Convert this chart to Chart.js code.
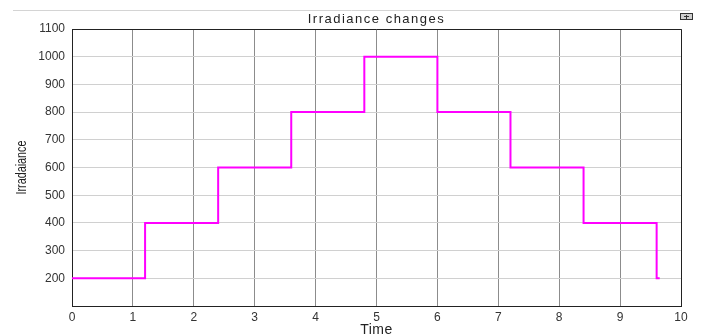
<!DOCTYPE html>
<html>
<head>
<meta charset="utf-8">
<script src="https://cdn.jsdelivr.net/npm/chart.js@4.4.0/dist/chart.umd.min.js"></script>
<style>
    html, body { margin: 0; padding: 0; background: #fff; }
    #wrap { width: 701px; height: 335px; position: relative; }
</style>
</head>
<body>
<div id="wrap"><canvas id="myChart" width="701" height="335"></canvas></div>
<script>
// step times (s) and the irradiance level that starts at each time
let stepTimes = [0, 1.2, 2.4, 3.6, 4.8, 6.0, 7.2, 8.4, 9.6, 9.65];
let irradiance = [200, 400, 600, 800, 1000, 800, 600, 400, 200, 200];
let xTicks = [0, 1, 2, 3, 4, 5, 6, 7, 8, 9, 10];
let yTicks = [200, 300, 400, 500, 600, 700, 800, 900, 1000, 1100];

const tickFont = { family: 'Liberation Sans, Arial, sans-serif', size: 12 };

// frame, titles and small button drawn around the plot area
const framePlugin = {
    id: 'frame',
    afterDraw(chart) {
        const ctx = chart.ctx;
        const a = chart.chartArea;
        const midX = (a.left + a.right) / 2;
        ctx.save();
        ctx.strokeStyle = '#d4d4d4';
        ctx.lineWidth = 1;
        ctx.beginPath();
        ctx.moveTo(13, 10.5);
        ctx.lineTo(690, 10.5);
        ctx.stroke();

        ctx.strokeStyle = '#222';
        ctx.beginPath();
        ctx.moveTo(a.left, a.top + 0.5);
        ctx.lineTo(a.right + 0.5, a.top + 0.5);
        ctx.lineTo(a.right + 0.5, a.bottom);
        ctx.stroke();

        // little icon in the corner
        ctx.fillStyle = '#cfcfcf';
        ctx.fillRect(680, 13, 13, 7);
        ctx.strokeStyle = '#333';
        ctx.strokeRect(680.5, 13.5, 12, 6);
        ctx.beginPath();
        ctx.moveTo(686.5, 15);
        ctx.lineTo(686.5, 19);
        ctx.moveTo(684, 16.5);
        ctx.lineTo(689, 16.5);
        ctx.stroke();

        ctx.fillStyle = '#222';
        ctx.font = '13px Liberation Sans, Arial, sans-serif';
        ctx.letterSpacing = '1.5px';
        ctx.textAlign = 'center';
        ctx.textBaseline = 'alphabetic';
        ctx.fillText('Irradiance changes', midX, 23);
        ctx.letterSpacing = '0.5px';

        ctx.font = '14px Liberation Sans, Arial, sans-serif';
        ctx.textBaseline = 'middle';
        ctx.fillText('Time', midX, 330);
        ctx.letterSpacing = '0px';

        // condensed rotated y label
        ctx.translate(22, (a.top + a.bottom) / 2);
        ctx.rotate(-Math.PI / 2);
        ctx.scale(0.72, 1);
        ctx.font = '15px Liberation Sans, Arial, sans-serif';
        ctx.fillText('Irradaiance', 0, 0);
        ctx.restore();
    }
};

const ctx = document.getElementById('myChart').getContext('2d');
new Chart(ctx, {
    type: 'line',
    data: {
        datasets: [{
            label: 'Irradiance',
            data: stepTimes.map((t, i) => ({ x: t, y: irradiance[i] })),
            borderColor: '#ff00ff',
            borderWidth: 2,
            pointRadius: 0,
            stepped: 'before',
            fill: false
        }]
    },
    options: {
        responsive: false,
        animation: false,
        devicePixelRatio: 1,
        layout: { padding: { top: 29, right: 20, left: 0, bottom: 0 } },
        plugins: {
            legend: { display: false },
            tooltip: { enabled: false }
        },
        scales: {
            x: {
                type: 'linear',
                min: 0,
                max: 10,
                afterBuildTicks: axis => { axis.ticks = xTicks.map(v => ({ value: v })); },
                afterFit: axis => { axis.height = 29; },
                ticks: { color: '#333', font: tickFont, padding: 4, autoSkip: false, maxRotation: 0, callback: v => String(v) },
                grid: { color: '#8c8c8c', drawTicks: false },
                border: { color: '#222' },
                title: { display: false }
            },
            y: {
                min: 100,
                max: 1100,
                afterBuildTicks: axis => { axis.ticks = yTicks.map(v => ({ value: v })); },
                afterFit: axis => { axis.width = 72; },
                ticks: { color: '#333', font: tickFont, padding: 7, autoSkip: false, callback: v => String(v) },
                grid: { color: '#d0d0d0', drawTicks: false },
                border: { color: '#222' },
                title: { display: false }
            }
        }
    },
    plugins: [framePlugin]
});
</script>
</body>
</html>
